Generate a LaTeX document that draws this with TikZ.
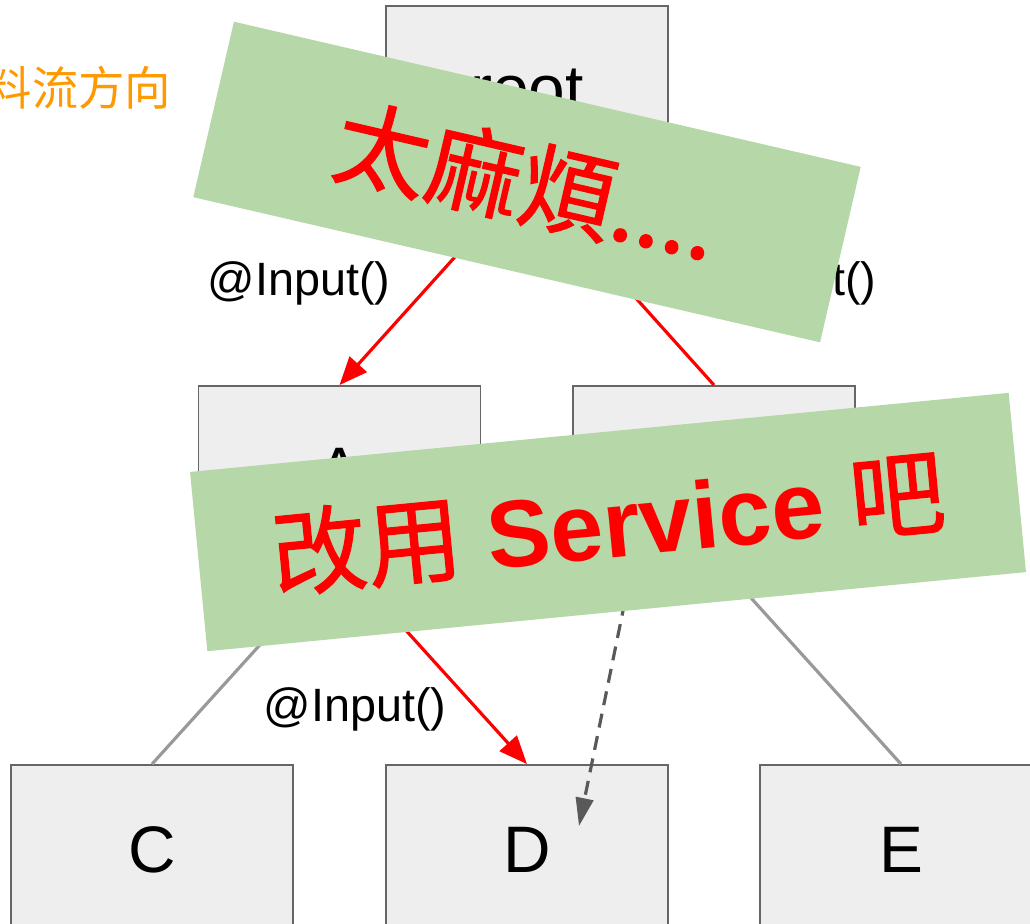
\documentclass[tikz,border=0pt]{standalone}
\usepackage{fontspec}
\setmainfont{Liberation Sans}
\newfontfamily\cjk{Noto Sans CJK TC}
\newfontfamily\cjkheavy[FakeBold=1.2]{Noto Sans CJK TC}
\usepackage{tikz}
\usetikzlibrary{arrows.meta,positioning,calc}

\definecolor{boxfill}{HTML}{EEEEEE}
\definecolor{boxline}{HTML}{666666}
\definecolor{linkgray}{HTML}{999999}
\definecolor{dashgray}{HTML}{595959}
\definecolor{notegreen}{HTML}{B6D7A8}
\definecolor{floworange}{HTML}{FF9900}

\tikzset{
  comp/.style={draw=boxline,fill=boxfill,line width=0.5pt,minimum width=2.82cm,minimum height=1.70cm,inner sep=0pt,font=\fontsize{18.7}{22}\selectfont},
  flow/.style={red,line width=0.9pt},
  child/.style={linkgray,line width=0.9pt},
  tag/.style={inner sep=0pt,font=\fontsize{13.3}{16}\selectfont},
  note/.style={fill=notegreen,minimum height=1.80cm,inner sep=0pt,text=red}
}

\begin{document}
\begin{tikzpicture}[x=0.01cm,y=-0.01cm]
\useasboundingbox (0,0) rectangle (1030,923);

% Legend
\node[anchor=east,inner sep=0pt,text=floworange,font=\cjk\fontsize{13.2}{15}\selectfont] (legend) at (172,88) {料流方向};

% Components
\node[comp] (root) at (527,91) {root};
\node[comp] (A) at (339.5,471) {A};
\node[comp] (B) at (714,471) {B};
\node[comp] (C) at (152,850) {C};
\node[comp] (D) at (527,850) {D};
\node[comp] (E) at (901,850) {E};

% Tree links
\draw[child] (A.south) -- (C.north);
\draw[child] (B.south) -- (E.north);

% Inputs
\draw[flow,-{Triangle[length=8pt,width=6.5pt]}] (root.south) -- (A.north);
\draw[flow] (root.south) -- (B.north);
\draw[flow,-{Triangle[length=8pt,width=6.5pt]}] (A.south) -- (D.north);

\node[tag] (inA) at (299,283) {@Input()};
\node[tag,anchor=east] (inB) at (877,283) {@Input()};
\node[tag] (inD) at (355,709) {@Input()};

% Shortcut
\coordinate (dtip) at (579,826);
\draw[dashgray,line width=0.9pt,dash pattern=on 4pt off 2.5pt,-{Triangle[length=8pt,width=5pt]}] ($(B.south)+(-80,0)$) -- (dtip);

% Notes
\node[note,minimum width=6.43cm,rotate=-13.04,font=\cjkheavy\fontsize{27}{32}\selectfont] (tooMuch) at (527,182) {太麻煩....};
\node[note,minimum width=8.22cm,rotate=5.52,font=\fontsize{27}{32}\selectfont] (useSvc) at (608,522) {{\cjkheavy 改用} \textbf{Service} {\cjkheavy 吧}};
\end{tikzpicture}
\end{document}
